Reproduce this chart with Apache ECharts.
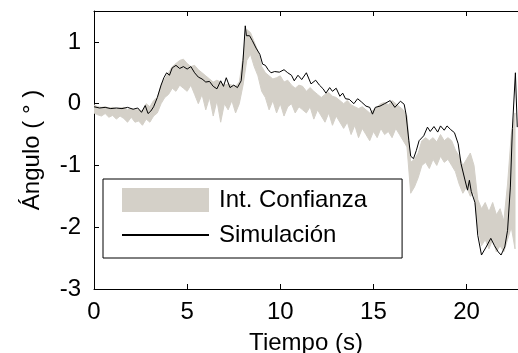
<!DOCTYPE html>
<html>
<head>
<meta charset="utf-8">
<script src="https://cdn.jsdelivr.net/npm/echarts@6/dist/echarts.min.js"></script>
<style>
  html, body { margin: 0; padding: 0; background: #fff; }
  #chart { width: 518px; height: 353px; }
</style>
</head>
<body>
<div id="chart"></div>
<script>
// simulated angle (black line)
const simTime = [
  0.0, 0.3, 0.6, 0.9, 1.2, 1.5, 1.8, 2.1, 2.35, 2.55, 2.75, 2.9, 3.05, 3.2, 3.4, 3.6, 3.75, 3.9,
  4.05, 4.2, 4.4, 4.6, 4.8, 5.0, 5.2, 5.4, 5.6, 5.8, 6.0, 6.2, 6.4, 6.6, 6.8, 6.95, 7.1, 7.3,
  7.5, 7.7, 7.9, 8.0, 8.12, 8.18, 8.35, 8.5, 8.7, 8.9, 9.05, 9.2, 9.35, 9.5, 9.7, 9.95, 10.2,
  10.4, 10.6, 10.75, 10.95, 11.15, 11.4, 11.65, 11.9, 12.1, 12.3, 12.45, 12.65, 12.8, 13.0,
  13.2, 13.35, 13.5, 13.7, 13.95, 14.15, 14.35, 14.6, 14.8, 14.95, 15.1, 15.35, 15.6, 15.9,
  16.15, 16.45, 16.65, 16.75, 16.9, 17.0, 17.15, 17.3, 17.45, 17.7, 17.9, 18.05, 18.25, 18.45,
  18.6, 18.8, 18.95, 19.15, 19.35, 19.55, 19.7, 19.9, 20.05, 20.15, 20.25, 20.45, 20.6, 20.8,
  21.05, 21.3, 21.5, 21.7, 21.85, 22.05, 22.2, 22.35, 22.46, 22.62, 22.7, 22.72
];
const simAngle = [
  -0.05, -0.07, -0.06, -0.08, -0.07, -0.08, -0.06, -0.09, -0.07, -0.14, -0.03, -0.16, -0.12, -0.05, 0.1, 0.3, 0.42, 0.5,
  0.46, 0.58, 0.62, 0.57, 0.6, 0.56, 0.6, 0.5, 0.43, 0.4, 0.35, 0.36, 0.28, 0.24, 0.37, 0.28, 0.42, 0.26,
  0.3, 0.26, 0.37, 0.7, 1.26, 1.1, 1.1, 1.02, 0.9, 0.8, 0.64, 0.62, 0.55, 0.5, 0.52, 0.51, 0.55,
  0.5, 0.46, 0.37, 0.46, 0.39, 0.5, 0.32, 0.38, 0.3, 0.24, 0.17, 0.26, 0.2, 0.25,
  0.12, 0.17, 0.08, 0.07, 0.0, 0.08, 0.03, -0.04, -0.06, -0.17, -0.06, -0.04, 0.0, 0.05,
  -0.06, 0.04, -0.01, -0.17, -0.6, -0.85, -0.89, -0.76, -0.6, -0.52, -0.38, -0.45, -0.37, -0.46,
  -0.36, -0.43, -0.36, -0.42, -0.47, -0.65, -0.97, -1.22, -1.4, -1.24, -1.42, -1.6, -2.13, -2.45,
  -2.32, -2.18, -2.3, -2.4, -2.45, -2.32, -2.05, -1.35, -0.4, 0.5, 0.48, -0.38
];

// confidence interval, one sample every 0.2 s starting at 0
const bandStep = 0.2;
const bandLow = [
  -0.15, -0.18, -0.2, -0.16, -0.22, -0.19, -0.25, -0.2, -0.24, -0.3,
  -0.22, -0.3, -0.28, -0.35, -0.25, -0.3, -0.2, -0.15, 0.0, 0.1,
  0.15, 0.25, 0.2, 0.3, 0.25, 0.2, 0.3, 0.15, 0.0, 0.15,
  -0.1, 0.1, -0.2, 0.05, -0.3, 0.0, -0.1, 0.05, -0.15, 0.0,
  0.3, 0.7, 0.8, 0.6, 0.45, 0.2, 0.1, -0.1, 0.05, -0.15,
  0.0, -0.2, -0.05, 0.0, -0.15, -0.05, -0.1, -0.15, -0.05, -0.25,
  -0.1, -0.2, -0.3, -0.15, -0.35, -0.2, -0.3, -0.4, -0.3, -0.5,
  -0.35, -0.55, -0.4, -0.5, -0.6, -0.45, -0.55, -0.4, -0.5, -0.45,
  -0.55, -0.4, -0.5, -0.6, -0.7, -1.45, -1.35, -1.2, -1.0, -0.95,
  -1.05, -0.9, -1.0, -0.85, -0.95, -0.9, -1.0, -1.1, -1.3, -1.45,
  -1.35, -1.5, -1.45, -2.0, -2.3, -2.2, -2.35, -2.2, -2.4, -2.3,
  -2.4, -2.2, -2.0, -2.35
];
const bandHigh = [
  -0.02, -0.05, -0.06, -0.05, -0.07, -0.06, -0.08, -0.07, -0.06, -0.1,
  -0.08, -0.1, -0.1, -0.12, 0.0, -0.05, 0.05, 0.1, 0.3, 0.4,
  0.5, 0.6, 0.65, 0.7, 0.72, 0.65, 0.6, 0.62, 0.55, 0.5,
  0.45, 0.4, 0.35, 0.38, 0.35, 0.3, 0.32, 0.3, 0.28, 0.35,
  0.75, 1.2, 1.15, 1.0, 0.85, 0.6, 0.5, 0.45, 0.4, 0.42,
  0.45, 0.35, 0.38, 0.3, 0.25, 0.3, 0.28, 0.2, 0.26, 0.2,
  0.15, 0.1, 0.15, 0.18, 0.12, 0.1, 0.05, 0.0, 0.05, -0.02,
  -0.05, -0.08, -0.05, -0.1, -0.15, -0.1, -0.05, 0.0, 0.02, -0.02,
  0.05, 0.0, -0.05, -0.1, -0.2, -0.95, -0.9, -0.8, -0.6, -0.55,
  -0.6, -0.55, -0.62, -0.5, -0.6, -0.55, -0.6, -0.75, -0.85, -1.0,
  -0.9, -0.8, -1.0, -1.55, -1.7, -1.6, -1.75, -1.6, -1.8, -1.7,
  -1.9, -1.3, -0.5, -0.15
];

const xTicks = [0, 5, 10, 15, 20];
const yTicks = [-3, -2, -1, 0, 1];

const fontFamily = '"Liberation Sans", Arial, sans-serif';
const bandColor = '#d4d0c8';
const axisColor = '#000';

const simData = simTime.map((t, i) => [t, simAngle[i]]);
const bandData = bandLow.map((lo, i) => [i * bandStep, lo, bandHigh[i]]);

const chart = echarts.init(document.getElementById('chart'));

const axisCommon = {
  axisLine: { show: true, onZero: false, lineStyle: { color: axisColor, width: 1 } },
  axisTick: { show: true, inside: true, length: 5, lineStyle: { color: axisColor } },
  splitLine: { show: false }
};

chart.setOption({
  animation: false,
  backgroundColor: '#fff',
  textStyle: { fontFamily: fontFamily },
  // keep the plot box fixed, labels may sit outside it
  grid: { left: 94, top: 11, right: 0, bottom: 64, outerBoundsMode: 'none' },
  legend: {
    left: 103,
    top: 179,
    orient: 'vertical',
    padding: [9, 35, 11, 18],
    itemWidth: 87,
    itemHeight: 24,
    itemGap: 11,
    borderColor: axisColor,
    borderWidth: 1,
    backgroundColor: '#fff',
    textStyle: { fontSize: 24, color: '#000', fontFamily: fontFamily, lineHeight: 24, padding: [0, 0, 0, 5] },
    data: [
      { name: 'Int. Confianza', icon: 'rect' },
      { name: 'Simulación', itemStyle: { opacity: 0 } }
    ]
  },
  xAxis: [
    Object.assign({}, axisCommon, {
      type: 'value',
      min: 0,
      max: 22.76,
      interval: 5,
      name: 'Tiempo (s)',
      nameLocation: 'middle',
      nameGap: 42,
      nameTextStyle: { fontSize: 24, color: '#000', fontFamily: fontFamily },
      axisLabel: {
        fontSize: 24, color: '#000', margin: 11, showMaxLabel: false,
        formatter: (v) => (xTicks.indexOf(v) >= 0 ? String(v) : '')
      }
    }),
    Object.assign({}, axisCommon, {
      type: 'value',
      position: 'top',
      min: 0,
      max: 22.76,
      interval: 5,
      axisLabel: { show: false }
    })
  ],
  yAxis: Object.assign({}, axisCommon, {
    type: 'value',
    min: -3,
    max: 1.5,
    interval: 1,
    name: 'Ángulo ( ° )',
    nameLocation: 'middle',
    nameRotate: 90,
    nameGap: 50,
    nameTextStyle: { fontSize: 24, color: '#000', fontFamily: fontFamily },
    axisLabel: {
      fontSize: 24, color: '#000', margin: 13, showMaxLabel: false,
      formatter: (v) => (yTicks.indexOf(v) >= 0 ? String(v) : '')
    }
  }),
  series: [
    {
      name: 'Int. Confianza',
      type: 'custom',
      clip: true,
      itemStyle: { color: bandColor },
      encode: { x: 0, y: [1, 2] },
      data: bandData,
      z: 2,
      renderItem: function (params, api) {
        // whole band drawn once as a polygon: upper edge forward, lower edge back
        if (params.dataIndex !== 0) return null;
        const upper = bandData.map((d) => api.coord([d[0], d[2]]));
        const lower = bandData.slice().reverse().map((d) => api.coord([d[0], d[1]]));
        return {
          type: 'polygon',
          shape: { points: upper.concat(lower) },
          style: { fill: bandColor, stroke: bandColor, lineWidth: 1 }
        };
      }
    },
    {
      name: 'Simulación',
      type: 'line',
      data: simData,
      showSymbol: false,
      symbol: 'none',
      clip: true,
      z: 3,
      lineStyle: { color: '#000', width: 1 },
      itemStyle: { color: '#000' }
    }
  ]
});
</script>
</body>
</html>
